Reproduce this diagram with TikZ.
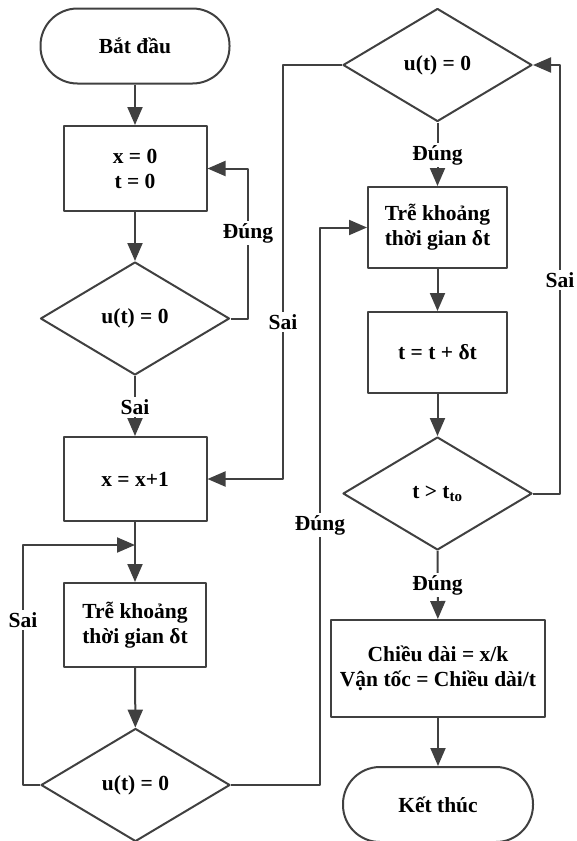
\documentclass[tikz,border=0pt]{standalone}
\usepackage{fontspec}
\setmainfont{Liberation Serif}
\usetikzlibrary{shapes.geometric,arrows.meta}
\tikzset{
  proc/.style={draw, rectangle, inner sep=2pt, align=center},
  decision/.style={draw, diamond, aspect=1.67, inner sep=0pt, minimum width=189pt, minimum height=113pt},
  terminal/.style={draw, rectangle, rounded corners=37pt, minimum width=189pt, minimum height=75pt},
  lbl/.style={fill=white, inner sep=2pt}
}
\begin{document}
\begin{tikzpicture}[x=1pt, y=-1pt, line width=2pt, line join=round, color={black!75}, text=black,
  font=\fontsize{21.5}{25}\selectfont\bfseries, >={Triangle[length=18pt,width=15pt]}]
  \useasboundingbox (0,0) rectangle (576,841);
  % left column
  \node[terminal] (start) at (135,46) {Bắt đầu};
  \node[proc, minimum width=143pt, minimum height=85pt] (init) at (135,168.5) {x = 0\\t = 0};
  \node[decision] (dec1) at (135,318.5) {u(t) = 0};
  \node[proc, minimum width=143pt, minimum height=84pt] (inc) at (135,479) {x = x+1};
  \node[proc, minimum width=142pt, minimum height=84pt] (delayA) at (135,625) {Trễ khoảng\\thời gian δt};
  \node[decision] (dec2) at (135.5,785) {u(t) = 0};
  % right column
  \node[decision] (dec3) at (437.5,65) {u(t) = 0};
  \node[proc, minimum width=139pt, minimum height=81pt] (delayB) at (437.5,227.5) {Trễ khoảng\\thời gian δt};
  \node[proc, minimum width=139pt, minimum height=81pt] (upd) at (437.5,352.5) {t = t + δt};
  \node[decision] (dec4) at (437.5,493.5) {t > t\textsubscript{to}};
  \node[proc, minimum width=214pt, minimum height=97pt] (result) at (438,668.5) {Chiều dài = x/k\\Vận tốc = Chiều dài/t};
  \node[terminal, minimum width=190pt] (stop) at (438,804.5) {Kết thúc};
  \coordinate (join) at (135,545);
  % connectors
  \draw[->] (start) -- (init);
  \draw[->] (init) -- (dec1);
  \draw[->] (dec1.east) -- (248,318.5) |- (init.east);
  \draw[->] (dec1) -- (inc);
  \draw[->] (dec3.west) -- (283,65) |- (inc.east);
  \draw (inc) -- (join);
  \draw[->] (join) -- (delayA);
  \draw[->] (dec2.west) -- (23,785) |- (join);
  \draw[->] (delayA) -- (dec2);
  \draw[->] (dec2.east) -- (320,785) |- (delayB.west);
  \draw[->] (dec3) -- (delayB);
  \draw[->] (delayB) -- (upd);
  \draw[->] (upd) -- (dec4);
  \draw[->] (dec4.east) -- (560,493.5) |- (dec3.east);
  \draw[->] (dec4) -- (result);
  \draw[->] (result) -- (stop);
  % labels
  \node[lbl] (l1) at (248,233) {Đúng};
  \node[lbl] (l2) at (135,407) {Sai};
  \node[lbl] (l3) at (283,322) {Sai};
  \node[lbl] (l4) at (23,620) {Sai};
  \node[lbl] (l5) at (320,525) {Đúng};
  \node[lbl] (l6) at (437.5,155) {Đúng};
  \node[lbl] (l7) at (560,280) {Sai};
  \node[lbl] (l8) at (437.5,585) {Đúng};
\end{tikzpicture}
\end{document}
